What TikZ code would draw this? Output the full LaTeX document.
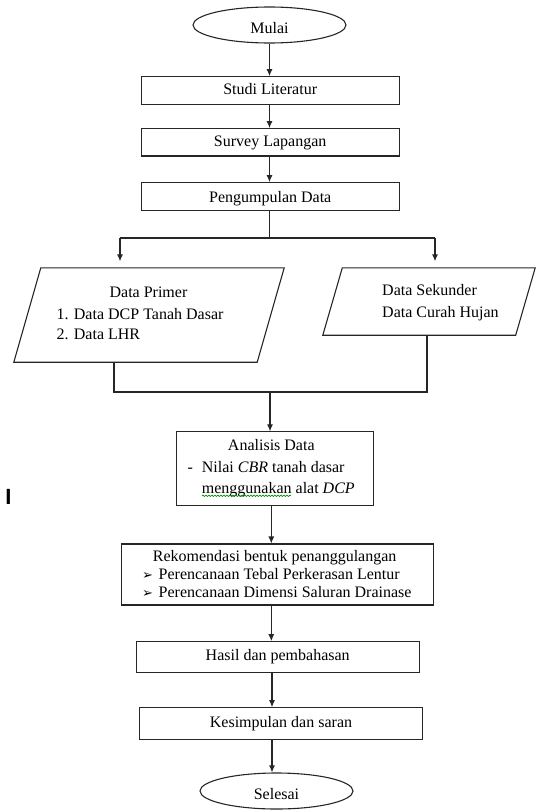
\documentclass[tikz,border=0pt]{standalone}
\usepackage{fontspec}
\setmainfont{Liberation Serif}
\newfontfamily\dejavu{DejaVu Sans}
\newfontfamily\arialf{Liberation Sans}
\usetikzlibrary{shapes.geometric,arrows.meta,decorations.pathmorphing}
\begin{document}
\begin{tikzpicture}[x=1pt,y=-1pt,
  every node/.style={font=\fontsize{16}{19}\selectfont},
  box/.style={draw=black!85, line width=1.1pt, rectangle, inner sep=0pt, text height=11pt, text depth=3.5pt},
  term/.style={draw=black!85, line width=1.1pt, ellipse, inner sep=0pt, text height=11pt, text depth=3.5pt},
  frame/.style={rectangle, inner sep=0pt, draw=none},
  txt/.style={inner sep=0pt, anchor=base west},
  bul/.style={txt, font=\dejavu\fontsize{13}{14}\selectfont},
  ln/.style={line width=1.1pt, draw=black!85},
  arr/.style={ln, -{Latex[length=7pt,width=6pt]}},
]
\useasboundingbox (0,0) rectangle (536,811);

% top terminal and boxes
\node[term, minimum width=153pt, minimum height=36pt] (mulai) at (269.5,25) {\raisebox{-5pt}{Mulai}};
\node[box, minimum width=258pt, minimum height=28pt] (studi) at (270.2,90.7) {Studi Literatur};
\node[box, minimum width=258pt, minimum height=27.3pt] (survey) at (270.2,142.3) {Survey Lapangan};
\node[box, minimum width=258pt, minimum height=28pt] (peng) at (270.2,196.7) {\raisebox{-2pt}{Pengumpulan Data}};

\coordinate (ux) at (269.5,0);
\draw[arr] (mulai.south -| ux) -- (studi.north -| ux);
\draw[arr] (studi.south -| ux) -- (survey.north -| ux);
\draw[arr] (survey.south -| ux) -- (peng.north -| ux);

% parallelograms
\node[frame, minimum width=270pt, minimum height=94pt] (primer) at (149,315) {};
\draw[ln] ([xshift=27pt]primer.north west) -- (primer.north east)
  -- ([xshift=-27pt]primer.south east) -- (primer.south west) -- cycle;
\node[txt] (tp1) at (109.4,297) {Data Primer};
\node[txt] (tp2) at (56.4,319) {1. Data DCP Tanah Dasar};
\node[txt] (tp3) at (56.4,339) {2. Data LHR};

\node[frame, minimum width=212pt, minimum height=67pt] (sekunder) at (429,301.5) {};
\draw[ln] ([xshift=19.5pt]sekunder.north west) -- (sekunder.north east)
  -- ([xshift=-19.5pt]sekunder.south east) -- (sekunder.south west) -- cycle;
\node[txt] (ts1) at (382,295) {Data Sekunder};
\node[txt] (ts2) at (382,317) {Data Curah Hujan};

% branch
\coordinate (bm) at (269.5,238);
\coordinate (bl) at (120,238);
\coordinate (br) at (435,238);
\draw[ln] (peng.south -| bm) -- (bm);
\draw[ln] (bl) -- (br);
\draw[arr, shorten >=6.5pt] (bl) -- (bl |- primer.north);
\draw[arr, shorten >=6.5pt] (br) -- (br |- sekunder.north);

% merge
\coordinate (ml) at (114,392);
\coordinate (mr) at (427,392);
\coordinate (mj) at (270,392);
\draw[ln] (primer.south -| ml) -- (ml) -- (mr) -- (sekunder.south -| mr);

% analysis box
\node[box, minimum width=197pt, minimum height=74pt] (analisis) at (274.7,468.9) {};
\draw[arr] (mj) -- (analisis.north -| mj);
\node[inner sep=0pt, anchor=base] (ta1) at (271.3,450) {Analisis Data};
\node[txt] (ta0) at (187.3,472) {-};
\node[txt] (ta2) at (201.7,472) {Nilai \textit{CBR} tanah dasar};
\node[txt] (ta3) at (201.7,493) {menggunakan alat \textit{DCP}};
\draw[green!55!black, line width=0.7pt, decorate,
  decoration={snake, amplitude=0.7pt, segment length=3pt}] (202,495.8) -- (291,495.8);

% stray cursor mark
\node[font=\arialf\bfseries\fontsize{22}{22}\selectfont, inner sep=0pt, anchor=base] (cursor) at (8.5,504) {I};

% recommendation box
\node[box, minimum width=312pt, minimum height=61pt] (rekom) at (277.9,574.5) {};
\coordinate (lx) at (271.3,0);
\draw[arr] (analisis.south -| lx) -- (rekom.north -| lx);
\node[txt] (tr1) at (152.7,561) {Rekomendasi bentuk penanggulangan};
\node[bul] (tb1) at (142,579) {➢};
\node[txt] (tr2) at (158.5,579) {Perencanaan Tebal Perkerasan Lentur};
\node[bul] (tb2) at (142,597) {➢};
\node[txt] (tr3) at (158.5,597) {Perencanaan Dimensi Saluran Drainase};

% lower boxes
\node[box, minimum width=283pt, minimum height=31pt] (hasil) at (277.7,657.2) {Hasil dan pembahasan};
\node[box, minimum width=283.4pt, minimum height=31.3pt] (kesimpulan) at (281,723.4) {Kesimpulan dan saran};
\node[term, minimum width=153pt, minimum height=36pt] (selesai) at (276.5,791) {\raisebox{-5pt}{Selesai}};

\coordinate (kx) at (272,0);
\draw[arr] (rekom.south -| lx) -- (hasil.north -| lx);
\draw[arr] (hasil.south -| kx) -- (kesimpulan.north -| kx);
\draw[arr] (kesimpulan.south -| kx) -- (selesai.north -| kx);
\end{tikzpicture}
\end{document}
